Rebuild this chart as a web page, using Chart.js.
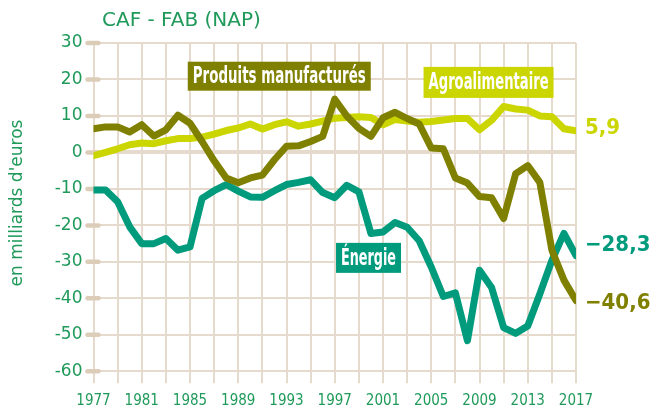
<!DOCTYPE html>
<html>
<head>
<meta charset="utf-8">
<script src="https://cdn.jsdelivr.net/npm/chart.js@4.4.1/dist/chart.umd.min.js"></script>
<style>
  html, body { margin: 0; padding: 0; background: #fff; }
  canvas { display: block; }
</style>
</head>
<body>
<canvas id="caf-fab" width="651" height="414"></canvas>
<script>
const years = [];
for (let y = 1977; y <= 2017; y++) years.push(y);

const produitsManufactures = [6.5, 7.0, 7.0, 5.6, 7.6, 4.5, 6.2, 10.2, 8.0, 3.0,
  -2.3, -7.0, -8.3, -7.0, -6.2, -2.0, 1.7, 1.8, 3.0, 4.4,
  14.6, 10.0, 6.6, 4.4, 9.5, 11.0, 9.3, 7.8, 1.2, 1.0,
  -7.0, -8.4, -12.1, -12.4, -18.1, -5.8, -3.6, -8.2, -26.8, -35.0,
  -40.6];
const agroalimentaire = [-0.9, 0.0, 1.0, 2.1, 2.6, 2.4, 3.2, 3.8, 3.8, 4.2,
  5.0, 6.0, 6.7, 7.8, 6.4, 7.6, 8.4, 7.2, 7.8, 8.6,
  9.4, 9.6, 9.8, 9.6, 7.6, 9.0, 8.6, 8.3, 8.5, 8.9,
  9.3, 9.3, 6.2, 8.8, 12.6, 11.9, 11.6, 10.0, 9.8, 6.5,
  5.9];
const energie = [-10.3, -10.3, -13.5, -20.4, -25.0, -25.0, -23.6, -26.8, -25.9, -12.6,
  -10.5, -8.8, -10.6, -12.2, -12.3, -10.5, -8.8, -8.2, -7.5, -11.0,
  -12.4, -9.0, -10.8, -22.2, -21.8, -19.2, -20.5, -24.2, -31.4, -39.5,
  -38.5, -51.6, -32.3, -37.0, -48.0, -49.6, -47.6, -38.8, -29.6, -22.2,
  -28.3];

const yTicks = [30, 20, 10, 0, -10, -20, -30, -40, -50, -60];
const xLabelYears = [1977, 1981, 1985, 1989, 1993, 1997, 2001, 2005, 2009, 2013, 2017];

const OLIVE = '#808000';
const AGRO = '#cbd600';
const TEAL = '#009b7d';
const GREEN_TEXT = '#1f9a5a';
const GRID = '#e5dacb';
const STUB = '#dccdb9';

const toPoints = (vals) => vals.map((v, i) => ({x: years[i], y: v}));

// boxed series names, centred on a data position
const boxLabels = [
  {text: 'Produits manufacturés', x: 1992.4, y: 20.9, w: 183, h: 29, color: OLIVE},
  {text: 'Agroalimentaire', x: 2009.75, y: 19.2, w: 130, h: 31, color: AGRO},
  {text: 'Énergie', x: 1999.8, y: -28.9, w: 65, h: 30, color: TEAL}
];
// last values written at the right end
const endLabels = [
  {text: '5,9', value: 5.9, shift: -3, color: AGRO},
  {text: '−28,3', value: -28.3, shift: -10, color: TEAL},
  {text: '−40,6', value: -40.6, shift: 3, color: OLIVE}
];

const decorations = {
  id: 'decorations',
  beforeDatasetsDraw(chart) {
    const {ctx, scales: {y}, chartArea} = chart;
    ctx.save();
    ctx.strokeStyle = STUB;
    ctx.lineWidth = 4.5;
    ctx.lineCap = 'round';
    yTicks.forEach(t => {
      const py = y.getPixelForValue(t);
      ctx.beginPath();
      ctx.moveTo(chartArea.left - 6, py);
      ctx.lineTo(chartArea.left + 5, py);
      ctx.stroke();
    });
    ctx.restore();
  },
  afterDatasetsDraw(chart) {
    const {ctx, scales: {x, y}, chartArea} = chart;
    ctx.save();
    boxLabels.forEach(b => {
      const cx = x.getPixelForValue(b.x);
      const cy = y.getPixelForValue(b.y);
      ctx.fillStyle = b.color;
      ctx.fillRect(cx - b.w / 2, cy - b.h / 2, b.w, b.h);
      ctx.fillStyle = '#ffffff';
      ctx.font = 'bold 23px "Liberation Sans Narrow", "DejaVu Sans Condensed", sans-serif';
      ctx.textAlign = 'center';
      ctx.textBaseline = 'middle';
      ctx.fillText(b.text, cx, cy + 1, b.w - 10);
    });
    endLabels.forEach(l => {
      ctx.fillStyle = l.color;
      ctx.font = 'bold 22px "DejaVu Sans Condensed", "DejaVu Sans", sans-serif';
      ctx.textAlign = 'left';
      ctx.textBaseline = 'middle';
      ctx.fillText(l.text, chartArea.right + 9, y.getPixelForValue(l.value) + l.shift, 66);
    });

    // title and axis title
    ctx.fillStyle = GREEN_TEXT;
    ctx.font = '20px "DejaVu Sans", sans-serif';
    ctx.textAlign = 'left';
    ctx.textBaseline = 'middle';
    ctx.fillText('CAF - FAB (NAP)', 102, 21);

    ctx.translate(18, 203);
    ctx.rotate(-Math.PI / 2);
    ctx.font = '17px "DejaVu Sans", sans-serif';
    ctx.textAlign = 'center';
    ctx.fillText("en milliards d'euros", 0, 0);
    ctx.restore();
  }
};

const line = (label, vals, color) => ({
  label,
  data: toPoints(vals),
  borderColor: color,
  backgroundColor: color,
  borderWidth: 7,
  borderJoinStyle: 'round',
  borderCapStyle: 'round',
  pointRadius: 0,
  tension: 0,
  fill: false
});

new Chart(document.getElementById('caf-fab'), {
  type: 'line',
  data: {
    datasets: [
      line('Produits manufacturés', produitsManufactures, OLIVE),
      line('Énergie', energie, TEAL),
      line('Agroalimentaire', agroalimentaire, AGRO)
    ]
  },
  options: {
    responsive: false,
    animation: false,
    layout: {padding: {top: 43, right: 75, bottom: 0, left: 0}},
    plugins: {
      legend: {display: false},
      tooltip: {enabled: false}
    },
    scales: {
      x: {
        type: 'linear',
        min: 1977,
        max: 2017,
        afterFit: (s) => { s.height = 42.7; },
        border: {display: false},
        grid: {
          color: GRID,
          lineWidth: 2,
          tickLength: 12,
          tickColor: GRID,
          tickWidth: 2
        },
        ticks: {
          stepSize: 2,
          autoSkip: false,
          maxRotation: 0,
          padding: 9,
          color: GREEN_TEXT,
          font: {family: '"DejaVu Sans Condensed", "DejaVu Sans", sans-serif', size: 15},
          callback: (v) => xLabelYears.includes(v) ? String(v) : ''
        }
      },
      y: {
        min: -60,
        max: 30,
        afterFit: (s) => { s.width = 93.5; },
        border: {display: false},
        grid: {
          color: GRID,
          lineWidth: (c) => (c.tick && c.tick.value === 0) ? 4 : 2,
          drawTicks: false
        },
        ticks: {
          stepSize: 10,
          padding: 11,
          color: GREEN_TEXT,
          font: {family: '"DejaVu Sans", sans-serif', size: 17},
          callback: (v) => yTicks.includes(v) ? String(v) : null
        }
      }
    }
  },
  plugins: [decorations]
});
</script>
</body>
</html>
